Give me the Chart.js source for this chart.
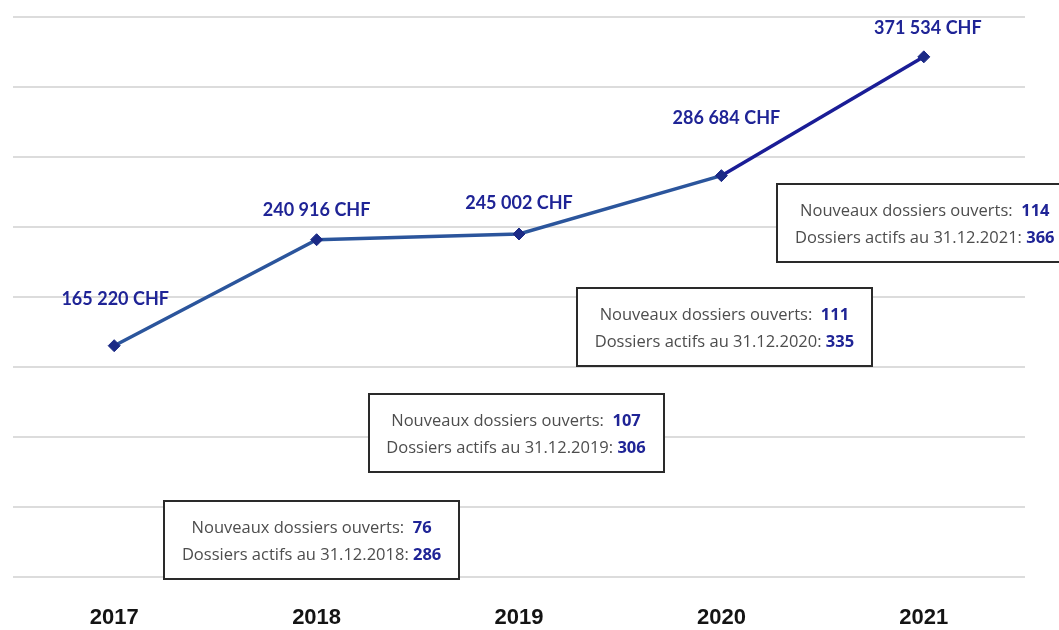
<!DOCTYPE html>
<html>
<head>
<meta charset="utf-8">
<script src="https://cdn.jsdelivr.net/npm/chart.js@4"></script>
<style>
  html, body { margin: 0; padding: 0; background: #fff; overflow: hidden; }
  canvas { display: block; }
</style>
</head>
<body>
<canvas id="c" width="1059" height="630" style="width:1059px;height:630px"></canvas>
<script>
// ---- data ----
const years = ['2017', '2018', '2019', '2020', '2021'];
const amounts = [165220, 240916, 245002, 286684, 371534];
const newCases = [null, 76, 107, 111, 114];
const activeCases = [null, 286, 306, 335, 366];
const yMin = 0, yMax = 400000, yStep = 50000;

// ---- styling / layout (not data) ----
const labelOffsets = [[1, -47], [0, -30], [0, -31], [5, -57], [4, -29]];
// box anchor: [category index, dx from category centre, top value on y scale]
const boxLayout = [null, [1, -5, 54300], [2, -3, 130700], [3, 3, 206400], [4, 1, 280700]];
const BOX_W = 295, BOX_H = 78;
const BLUE = '#1f2496';
const BOX_FONT = '"Open Sans"';
const BOX_SIZE = 16.5;

function fmt(v) {
  return String(v).replace(/\B(?=(\d{3})+(?!\d))/g, '\u202F') + '\u202FCHF';
}

const overlay = {
  id: 'overlay',
  afterDatasetsDraw(chart) {
    const { ctx, scales: { x, y } } = chart;
    ctx.save();
    // value labels
    ctx.font = 'bold 18px Lato';
    ctx.fillStyle = BLUE;
    ctx.textAlign = 'center';
    ctx.textBaseline = 'middle';
    amounts.forEach((v, i) => {
      const px = x.getPixelForValue(i) + labelOffsets[i][0];
      const py = y.getPixelForValue(v) + labelOffsets[i][1];
      ctx.fillText(fmt(v), px, py);
    });
    // boxes
    boxLayout.forEach((b, i) => {
      if (!b) return;
      const cx = x.getPixelForValue(b[0]) + b[1];
      const top = Math.round(y.getPixelForValue(b[2]));
      const left = Math.round(cx - BOX_W / 2);
      ctx.fillStyle = '#fff';
      ctx.fillRect(left, top, BOX_W, BOX_H);
      ctx.strokeStyle = '#2a2a2a';
      ctx.lineWidth = 2;
      ctx.strokeRect(left, top, BOX_W, BOX_H);
      const lines = [
        ['Nouveaux dossiers ouverts:  ', String(newCases[i])],
        ['Dossiers actifs au 31.12.' + years[i] + ': ', String(activeCases[i])]
      ];
      ctx.textAlign = 'left';
      ctx.textBaseline = 'middle';
      lines.forEach((ln, k) => {
        const reg = BOX_SIZE + 'px ' + BOX_FONT;
        const bold = 'bold ' + BOX_SIZE + 'px ' + BOX_FONT;
        ctx.font = reg;
        const w1 = ctx.measureText(ln[0]).width;
        ctx.font = bold;
        const w2 = ctx.measureText(ln[1]).width;
        const sx = cx - (w1 + w2) / 2;
        const ty = top + 27 + k * 27;
        ctx.font = reg;
        ctx.fillStyle = '#4d4d4d';
        ctx.fillText(ln[0], sx, ty);
        ctx.font = bold;
        ctx.fillStyle = BLUE;
        ctx.fillText(ln[1], sx + w1, ty);
      });
    });
    ctx.restore();
  }
};

new Chart(document.getElementById('c'), {
  type: 'line',
  data: {
    labels: years,
    datasets: [{
      data: amounts,
      borderWidth: 3.5,
      borderColor: '#2b559c',
      segment: {
        borderColor: c => c.p1DataIndex === amounts.length - 1 ? '#1a1d96' : '#2b559c'
      },
      pointStyle: 'rectRot',
      pointRadius: 6,
      pointHoverRadius: 6,
      pointBackgroundColor: '#1b2a86',
      pointBorderColor: '#1b2a86',
      pointBorderWidth: 1,
      tension: 0,
      clip: false
    }]
  },
  options: {
    responsive: false,
    animation: false,
    layout: { padding: { left: 13, right: 34, top: 17, bottom: 0 } },
    plugins: { legend: { display: false }, tooltip: { enabled: false } },
    scales: {
      x: {
        offset: true,
        grid: { display: false, drawTicks: false },
        border: { display: false },
        afterFit: s => { s.height = 53; },
        ticks: {
          padding: 28,
          color: '#141414',
          font: { family: 'Liberation Sans', weight: 'bold', size: 22 }
        }
      },
      y: {
        min: yMin,
        max: yMax,
        ticks: { display: false, stepSize: yStep },
        grid: { color: '#dcdcdc', lineWidth: 2, drawTicks: false },
        border: { display: false }
      }
    }
  },
  plugins: [overlay]
});
</script>
</body>
</html>
